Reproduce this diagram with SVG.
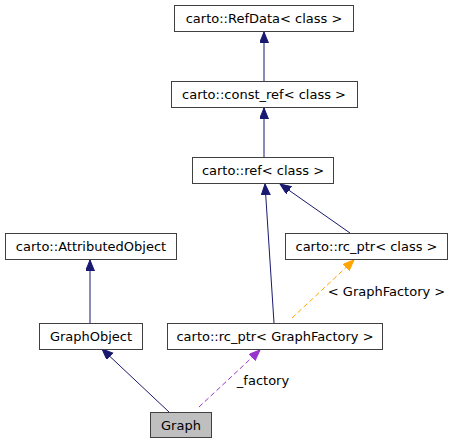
<svg xmlns="http://www.w3.org/2000/svg" width="453" height="444" viewBox="0 0 453 444">
<style>
.box{fill:#ffffff;stroke:#404040;stroke-width:1}
.cur{fill:#bfbfbf;stroke:#404040;stroke-width:1}
text{font-family:"DejaVu Sans",sans-serif;font-size:13px;fill:#000000}
.lbl{text-anchor:middle}
.inh{stroke:#191970;stroke-width:1;fill:none}
.org{stroke:#ffa500;stroke-width:1;fill:none;stroke-dasharray:5,3}
.pur{stroke:#9a32cd;stroke-width:1;fill:none;stroke-dasharray:5,3}
</style>
<defs>
<marker id="aNavy" markerUnits="userSpaceOnUse" markerWidth="12" markerHeight="10" refX="11" refY="4.5" orient="auto" viewBox="0 0 12 10">
<path d="M0,0 L11,4.5 L0,9 Z" fill="#191970" stroke="#191970"/>
</marker>
<marker id="aOrg" markerUnits="userSpaceOnUse" markerWidth="12" markerHeight="10" refX="11" refY="4.5" orient="auto" viewBox="0 0 12 10">
<path d="M0,0 L11,4.5 L0,9 Z" fill="#ffa500" stroke="#ffa500"/>
</marker>
<marker id="aPur" markerUnits="userSpaceOnUse" markerWidth="12" markerHeight="10" refX="11" refY="4.5" orient="auto" viewBox="0 0 12 10">
<path d="M0,0 L11,4.5 L0,9 Z" fill="#9a32cd" stroke="#9a32cd"/>
</marker>
</defs>
<rect width="453" height="444" fill="#ffffff"/>
<g id="edges">
<path class="inh" d="M264,81 L264,32" marker-end="url(#aNavy)"/>
<path class="inh" d="M264,158 L264,108" marker-end="url(#aNavy)"/>
<path class="inh" d="M274,323 L265,184" marker-end="url(#aNavy)"/>
<path class="inh" d="M350,233 L280,184" marker-end="url(#aNavy)"/>
<path class="inh" d="M90,323 L90,260" marker-end="url(#aNavy)"/>
<path class="inh" d="M169,412 L102,349" marker-end="url(#aNavy)"/>
<path class="org" d="M292,318 L354,260" marker-end="url(#aOrg)"/>
<text x="386.5" y="296" class="lbl">&lt; GraphFactory &gt;</text>
<path class="pur" d="M199,407 L260,350" marker-end="url(#aPur)"/>
<text x="263" y="385" class="lbl">_factory</text>
</g>
<g id="node-refdata">
<rect class="box" x="174.5" y="5.5" width="179" height="26"/>
<text x="264" y="22.5" class="lbl">carto::RefData&lt; class &gt;</text>
</g>
<g id="node-constref">
<rect class="box" x="171.5" y="81.5" width="186" height="26"/>
<text x="264" y="98.5" class="lbl">carto::const_ref&lt; class &gt;</text>
</g>
<g id="node-ref">
<rect class="box" x="192.5" y="157.5" width="141" height="26"/>
<text x="263" y="174.5" class="lbl">carto::ref&lt; class &gt;</text>
</g>
<g id="node-attributed">
<rect class="box" x="5.5" y="233.5" width="171" height="26"/>
<text x="91" y="250.5" class="lbl">carto::AttributedObject</text>
</g>
<g id="node-rcptr-class">
<rect class="box" x="285.5" y="233.5" width="162" height="26"/>
<text x="366.5" y="250.5" class="lbl">carto::rc_ptr&lt; class &gt;</text>
</g>
<g id="node-graphobject">
<rect class="box" x="39.5" y="323.5" width="103" height="26"/>
<text x="91" y="340.5" class="lbl">GraphObject</text>
</g>
<g id="node-rcptr-gf">
<rect class="box" x="167.5" y="323.5" width="215" height="26"/>
<text x="275" y="340.5" class="lbl">carto::rc_ptr&lt; GraphFactory &gt;</text>
</g>
<g id="node-graph">
<rect class="cur" x="150.5" y="412.5" width="61" height="25"/>
<text x="181" y="429.5" class="lbl">Graph</text>
</g>
</svg>
